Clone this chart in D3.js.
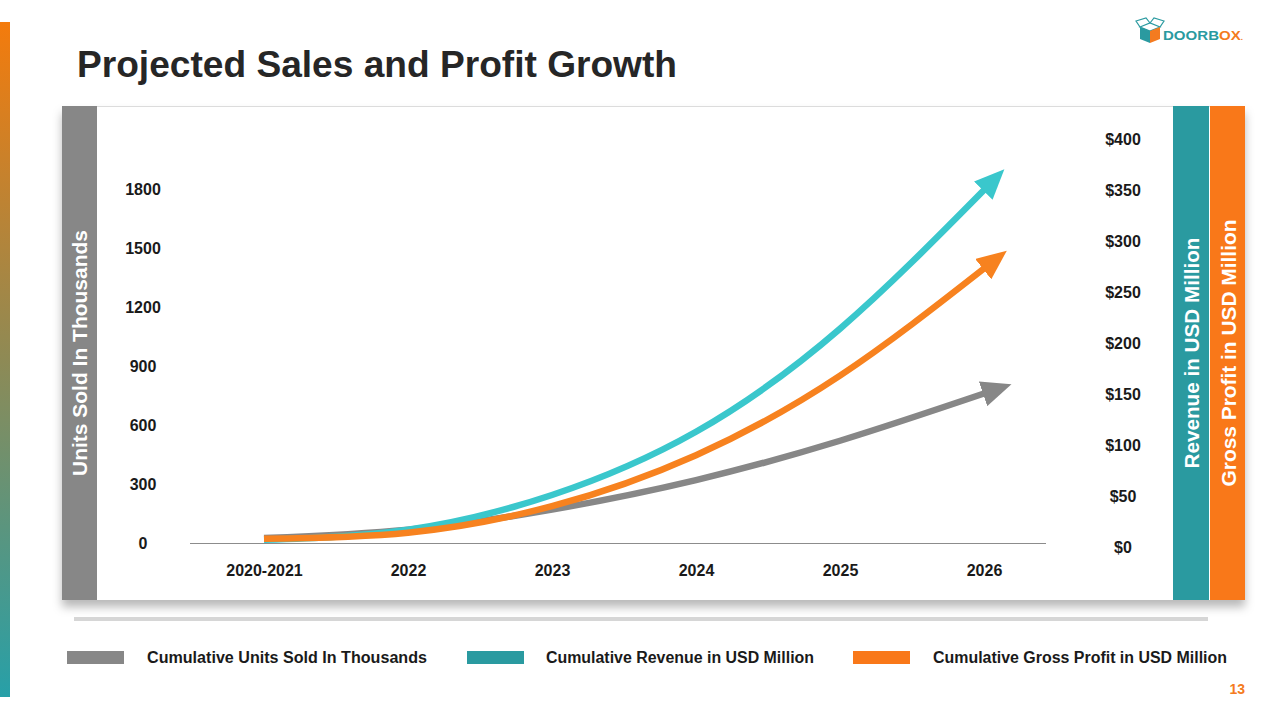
<!DOCTYPE html>
<html><head><meta charset="utf-8">
<script src="https://cdn.jsdelivr.net/npm/d3@7"></script>
<style>body{margin:0;background:#fff;overflow:hidden;} svg{display:block;font-family:"Liberation Sans",Arial,sans-serif;}</style>
</head><body><svg id="c" width="1280" height="720"></svg>
<script>
const categories = ["2020-2021","2022","2023","2024","2025","2026"];
const unitsSold = [25, 68, 170, 320, 520, 760];
const revenue = [7, 17, 51, 113, 214, 350];
const grossProfit = [8, 14, 40, 90, 168, 273];
const leftTicks = [0, 300, 600, 900, 1200, 1500, 1800];
const rightTicks = [0, 50, 100, 150, 200, 250, 300, 350, 400];
const seriesNames = ["Cumulative Units Sold In Thousands", "Cumulative Revenue in USD Million", "Cumulative Gross Profit in USD Million"];
const axisTitles = ["Units Sold In Thousands", "Revenue in USD Million", "Gross Profit in USD Million"];
const title = "Projected Sales and Profit Growth";

const svg = d3.select("#c");
const defs = svg.append("defs");

// gradient side bar
const g1 = defs.append("linearGradient").attr("id","sideGrad").attr("x1",0).attr("y1",0).attr("x2",0).attr("y2",1);
g1.append("stop").attr("offset","0%").attr("stop-color","#F47B0C");
g1.append("stop").attr("offset","50%").attr("stop-color","#8E8A55");
g1.append("stop").attr("offset","100%").attr("stop-color","#27A0A8");
svg.append("rect").attr("x",0).attr("y",22).attr("width",10).attr("height",675).attr("fill","url(#sideGrad)");

// shadow filter
const f = defs.append("filter").attr("id","shadow").attr("x","-5%").attr("y","-5%").attr("width","110%").attr("height","120%");
f.append("feDropShadow").attr("dx",0).attr("dy",7).attr("stdDeviation",5).attr("flood-color","#000").attr("flood-opacity",0.28);

// title
svg.append("text").attr("x",77).attr("y",77).attr("font-size",37).attr("font-weight","bold")
  .attr("fill","#262626").attr("textLength",600).attr("lengthAdjust","spacingAndGlyphs").text(title);

// logo
const logo = svg.append("g");
logo.append("path").attr("d","M1140,27 L1150,23 L1160,27 L1150,31 Z").attr("fill","none").attr("stroke","#2A9AA0").attr("stroke-width",1.2);
logo.append("path").attr("d","M1140,27 L1136,21 L1146,18 L1150,23 M1160,27 L1164,21 L1154,18 L1150,23").attr("fill","none").attr("stroke","#2A9AA0").attr("stroke-width",1.2);
logo.append("path").attr("d","M1140,27 L1150,31 L1150,43 L1140,39 Z").attr("fill","#2A9AA0");
logo.append("path").attr("d","M1150,31 L1160,27 L1160,39 L1150,43 Z").attr("fill","#F47B20");
const lt = logo.append("text").attr("x",1163).attr("y",40).attr("font-size",13).attr("font-weight","bold")
  .attr("textLength",80).attr("lengthAdjust","spacingAndGlyphs");
lt.append("tspan").attr("fill","#2A9AA0").text("DOORB");
lt.append("tspan").attr("fill","#F47B20").text("OX");
lt.append("tspan").attr("fill","#F47B20").attr("font-size",7).text(".");

// panel
svg.append("rect").attr("x",62).attr("y",106).attr("width",1183).attr("height",494).attr("fill","#fff").attr("filter","url(#shadow)");
svg.append("line").attr("x1",62).attr("x2",1245).attr("y1",106.5).attr("y2",106.5).attr("stroke","#dcdcdc");
svg.append("rect").attr("x",62).attr("y",106).attr("width",35).attr("height",494).attr("fill","#878787");
svg.append("rect").attr("x",1173).attr("y",106).attr("width",36).attr("height",494).attr("fill","#2A9AA0");
svg.append("rect").attr("x",1210).attr("y",106).attr("width",35).attr("height",494).attr("fill","#F97819");

// rotated axis titles
const sideT = [[80, axisTitles[0], 246],[1192, axisTitles[1], 231],[1229, axisTitles[2], 267]];
sideT.forEach(([x,t,len]) => {
  svg.append("text").attr("transform",`translate(${x},353) rotate(-90)`).attr("text-anchor","middle")
    .attr("dy","0.35em").attr("font-size",20).attr("font-weight","bold").attr("fill","#fff")
    .attr("textLength",len).attr("lengthAdjust","spacingAndGlyphs").text(t);
});

// under bar
svg.append("rect").attr("x",74).attr("y",617).attr("width",1134).attr("height",4).attr("fill","#d6d6d6");

// scales
const x = d3.scalePoint().domain(categories).range([264, 984]);
const yL = d3.scaleLinear().domain([0,1800]).range([543, 189]);
const yR = d3.scaleLinear().domain([0,400]).range([547, 139]);

// axes
const axL = svg.append("g").attr("transform","translate(143,0)")
  .call(d3.axisLeft(yL).tickValues(leftTicks).tickSize(0).tickPadding(0).tickFormat(d3.format("d")));
axL.select(".domain").remove();
axL.selectAll("text").attr("text-anchor","middle").attr("x",0);

const axR = svg.append("g").attr("transform","translate(1123,0)")
  .call(d3.axisRight(yR).tickValues(rightTicks).tickSize(0).tickPadding(0).tickFormat(d => "$" + d));
axR.select(".domain").remove();
axR.selectAll("text").attr("text-anchor","middle").attr("x",0);

const axB = svg.append("g").attr("transform","translate(0,543)")
  .call(d3.axisBottom(x).tickSize(0).tickPadding(22));
axB.select(".domain").remove();

svg.selectAll(".tick text").attr("font-family","'Liberation Sans',Arial,sans-serif").attr("font-size",16)
  .attr("font-weight","bold").attr("fill","#1a1a1a");

svg.append("line").attr("x1",190).attr("x2",1046).attr("y1",543.5).attr("y2",543.5).attr("stroke","#8c8c8c").attr("stroke-width",1);

// series
const series = [
  {id:"u", vals:unitsSold, y:yL, color:"#878787"},
  {id:"r", vals:revenue, y:yR, color:"#3AC7CC"},
  {id:"p", vals:grossProfit, y:yR, color:"#F7821F"}
];
series.forEach(s => {
  defs.append("marker").attr("id","arr-"+s.id).attr("viewBox","0 0 30 26")
    .attr("markerUnits","userSpaceOnUse").attr("markerWidth",30).attr("markerHeight",26)
    .attr("refX",1).attr("refY",13).attr("orient","auto")
    .append("path").attr("d","M0,0 L30,13 L0,26 Z").attr("fill",s.color);
  const line = d3.line().x((d,i) => x(categories[i])).y(d => s.y(d)).curve(d3.curveNatural);
  svg.append("path").datum(s.vals).attr("d",line).attr("fill","none").attr("stroke",s.color)
    .attr("stroke-width",6.5).attr("marker-end",`url(#arr-${s.id})`);
});

// legend
const legendCols = ["#878787","#2A9AA0","#F97819"];
const legX = [67, 467, 853], legTX = [147, 546, 933], legLen = [280, 268, 294];
seriesNames.forEach((n,i) => {
  svg.append("rect").attr("x",legX[i]).attr("y",651).attr("width",57).attr("height",13).attr("fill",legendCols[i]);
  svg.append("text").attr("x",legTX[i]).attr("y",663).attr("font-size",16).attr("font-weight","bold")
    .attr("fill","#1a1a1a").attr("textLength",legLen[i]).attr("lengthAdjust","spacingAndGlyphs").text(n);
});

// page number
svg.append("text").attr("x",1245).attr("y",694).attr("text-anchor","end").attr("font-size",14)
  .attr("font-weight","bold").attr("fill","#F47B20").text("13");
</script></body></html>
